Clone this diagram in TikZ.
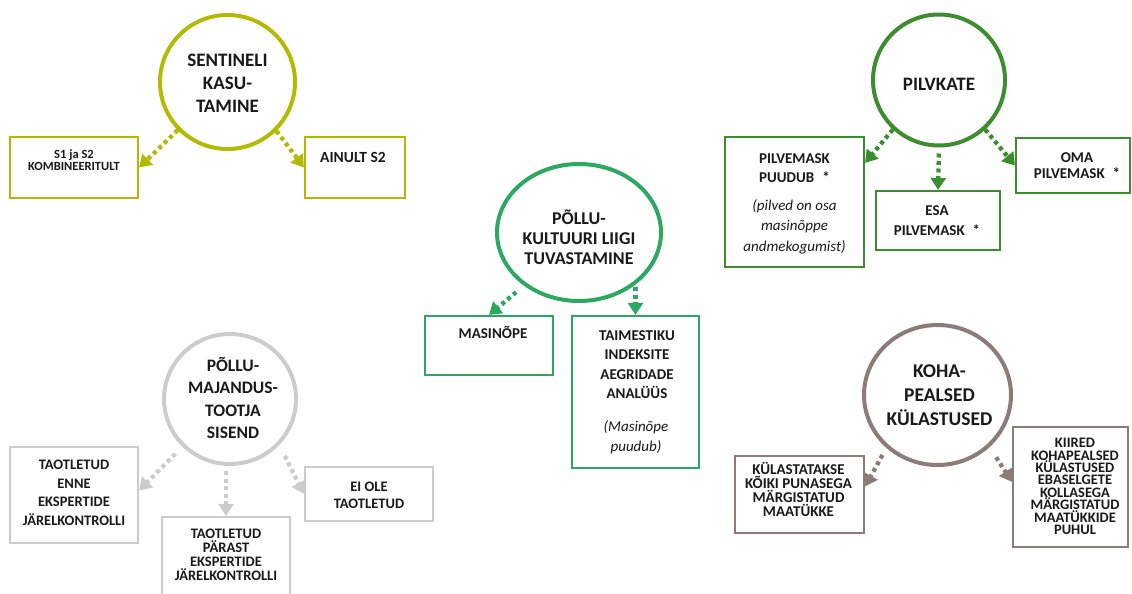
\documentclass[tikz,border=0pt]{standalone}
\usepackage{fontspec}
\setmainfont{Carlito}
\usetikzlibrary{arrows.meta,shapes.geometric}

\definecolor{sentcol}{RGB}{179,186,6}
\definecolor{kultcol}{RGB}{44,168,98}
\definecolor{pilvcol}{RGB}{60,141,46}
\definecolor{tootcol}{RGB}{204,204,204}
\definecolor{kohacol}{RGB}{139,124,121}
\definecolor{textcol}{RGB}{25,25,25}

\begin{document}
\begin{tikzpicture}[x=1pt,y=-1pt]
  \tikzset{
    ring/.style={ellipse, draw=#1, line width=4pt, inner sep=0pt},
    tile/.style={rectangle, draw=#1, line width=2.2pt, inner sep=0pt},
    cap/.style 2 args={inner sep=0pt, align=center, text=textcol,
      font=\bfseries\fontsize{#1}{#2}\selectfont},
    note/.style 2 args={inner sep=0pt, align=center, text=textcol,
      font=\itshape\fontsize{#1}{#2}\selectfont},
    flow/.style={draw=#1, line width=4.3pt, dash pattern=on 4pt off 3.5pt,
      -{Triangle[width=15pt,length=12pt]}}
  }
  \useasboundingbox (0,0) rectangle (1132,594);

  % sentineli kasutamine
  \node[ring=sentcol, minimum width=135pt, minimum height=134pt] (sent) at (227.5,82) {};
  \node[cap={19}{23}] (sent-t) at (227.5,83) {SENTINELI\\KASU-\\TAMINE};
  \node[tile=sentcol, minimum width=128pt, minimum height=61pt] (s1s2) at (74,167.5) {};
  \node[cap={12.5}{11.5}, anchor=north] (s1s2-t) at (74,150) {S1 ja S2\\KOMBINEERITULT};
  \node[tile=sentcol, minimum width=100pt, minimum height=61pt] (ainult) at (355,167.5) {};
  \node[cap={15.5}{19}, anchor=north] (ainult-t) at (353,152) {AINULT S2};

  % pollukultuuri liigi tuvastamine
  \node[ring=kultcol, minimum width=164pt, minimum height=137pt] (kult) at (579,232.5) {};
  \node[cap={18}{20}] (kult-t) at (579,237) {PÕLLU-\\KULTUURI LIIGI\\TUVASTAMINE};
  \node[tile=kultcol, minimum width=128pt, minimum height=59pt] (masin) at (489,345.5) {};
  \node[cap={15}{19.5}, anchor=north] (masin-t) at (493,326) {MASINÕPE};
  \node[tile=kultcol, minimum width=127pt, minimum height=152pt] (taim) at (635.5,392) {};
  \node[cap={15}{19.5}, anchor=north] (taim-t) at (637,330) {TAIMESTIKU\\INDEKSITE\\AEGRIDADE\\ANALÜÜS};
  \node[note={15}{20}, anchor=north] (taim-n) at (636,420) {(Masinõpe\\puudub)};

  % pilvkate
  \node[ring=pilvcol, minimum width=132pt, minimum height=131pt] (pilv) at (939,80) {};
  \node[cap={19}{23}] (pilv-t) at (939,84) {PILVKATE};
  \node[tile=pilvcol, minimum width=139pt, minimum height=130pt] (puudub) at (794.5,202) {};
  \node[cap={15}{19.5}, anchor=north] (puudub-t) at (794.5,153) {PILVEMASK\\PUUDUB\hspace{8pt}*};
  \node[note={15}{20.5}, anchor=north] (puudub-n) at (794.5,199) {(pilved on osa\\masinõppe\\andmekogumist)};
  \node[tile=pilvcol, minimum width=124pt, minimum height=59pt] (esa) at (938,220.5) {};
  \node[cap={15}{20}, anchor=north] (esa-t) at (937,205) {ESA\\PILVEMASK\hspace{8pt}*};
  \node[tile=pilvcol, minimum width=114pt, minimum height=55pt] (oma) at (1073,165.5) {};
  \node[cap={15}{16}, anchor=north] (oma-t) at (1077,152) {OMA\\PILVEMASK\hspace{8pt}*};

  % pollumajandustootja sisend
  \node[ring=tootcol, minimum width=132pt, minimum height=130pt] (toot) at (230,399) {};
  \node[cap={17.5}{22.5}] (toot-t) at (233,398) {PÕLLU-\\MAJANDUS-\\TOOTJA\\SISEND};
  \node[tile=tootcol, minimum width=128pt, minimum height=96pt] (enne) at (74,495) {};
  \node[cap={14.5}{18.5}, anchor=north] (enne-t) at (74,460) {TAOTLETUD\\ENNE\\EKSPERTIDE\\JÄRELKONTROLLI};
  \node[tile=tootcol, minimum width=128pt, minimum height=85pt] (parast) at (226,559.5) {};
  \node[cap={14.5}{14}, anchor=north] (parast-t) at (226,529) {TAOTLETUD\\PÄRAST\\EKSPERTIDE\\JÄRELKONTROLLI};
  \node[tile=tootcol, minimum width=128pt, minimum height=54pt] (eiole) at (369,494) {};
  \node[cap={14.5}{17}, anchor=north] (eiole-t) at (369,482) {EI OLE\\TAOTLETUD};

  % kohapealsed kylastused
  \node[ring=kohacol, minimum width=147pt, minimum height=140pt] (koha) at (937.5,395) {};
  \node[cap={19.5}{24}] (koha-t) at (939.5,395) {KOHA-\\PEALSED\\KÜLASTUSED};
  \node[tile=kohacol, minimum width=129pt, minimum height=77pt] (kulast) at (799.5,494.5) {};
  \node[cap={15}{14}, anchor=north] (kulast-t) at (798.5,462) {KÜLASTATAKSE\\KÕIKI PUNASEGA\\MÄRGISTATUD\\MAATÜKKE};
  \node[tile=kohacol, minimum width=115pt, minimum height=120pt] (kiired) at (1070.5,487) {};
  \node[cap={14.5}{12.4}, anchor=north] (kiired-t) at (1075,438) {KIIRED\\KOHAPEALSED\\KÜLASTUSED\\EBASELGETE\\KOLLASEGA\\MÄRGISTATUD\\MAATÜKKIDE\\PUHUL};

  % arrows
  \draw[flow=sentcol] (sent.-136) -- (s1s2.east);
  \draw[flow=sentcol] (sent.-45) -- (ainult.west);
  \draw[flow=kultcol, shorten <=10pt] (kult.-136) -- (masin.north);
  \draw[flow=kultcol, shorten <=5pt] (kult.-40 -| taim.north) -- (taim.north);
  \draw[flow=pilvcol] (pilv.-133) -- (puudub.29);
  \draw[flow=pilvcol, shorten <=6pt] (pilv.south) -- (esa.north);
  \draw[flow=pilvcol] (pilv.-47) -- (oma.west);
  \draw[flow=tootcol, shorten <=10pt] (toot.-135) -- (enne.4);
  \draw[flow=tootcol, shorten <=5pt] (toot.south -| parast.north) -- (parast.north);
  \draw[flow=tootcol, shorten <=12pt] (toot.-43) -- (eiole.west);
  \draw[flow=kohacol, shorten <=8pt] (koha.-134) -- (kulast.7);
  \draw[flow=kohacol, shorten <=12pt] (koha.-45) -- (kiired.175);
\end{tikzpicture}
\end{document}
